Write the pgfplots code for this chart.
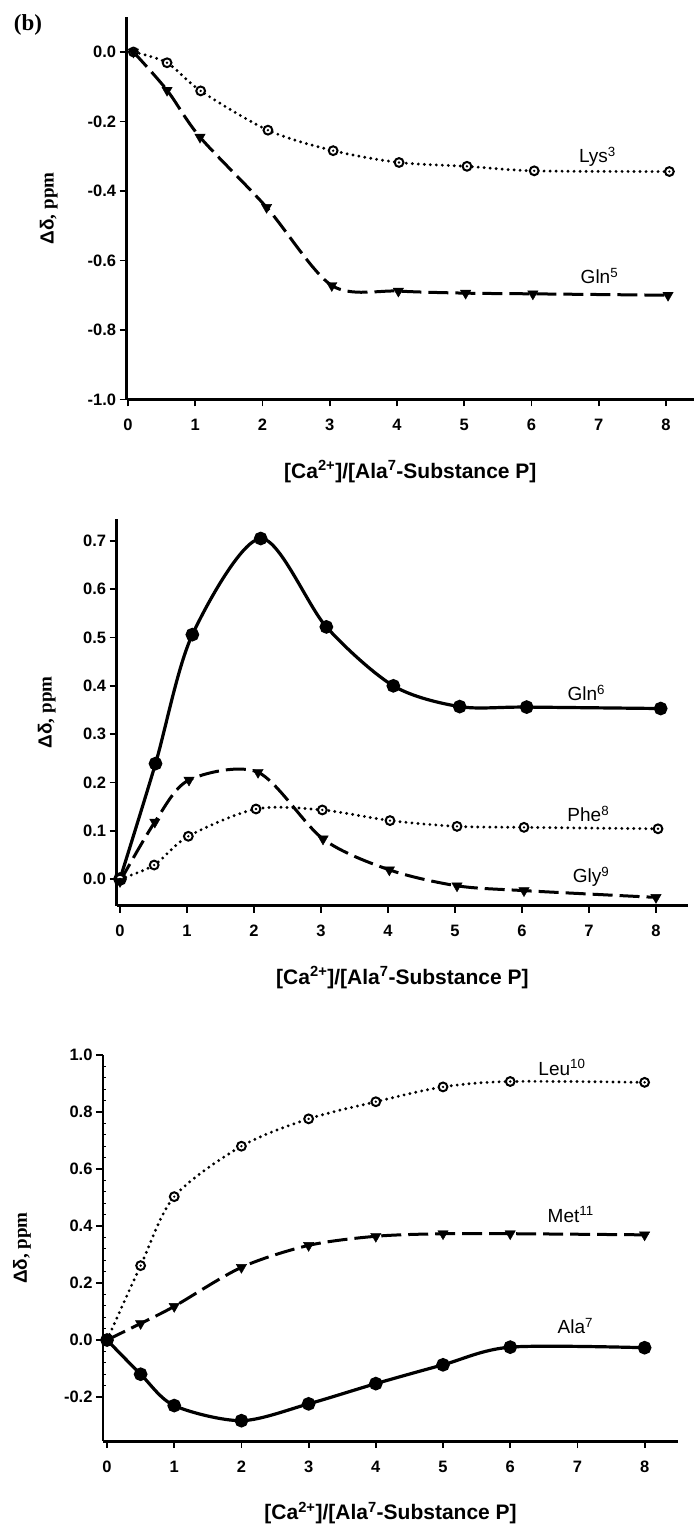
\documentclass[border=0pt]{standalone}
\usepackage{fontspec}
\setmainfont{Liberation Sans}
\newfontfamily\serifb{Liberation Serif}
\usepackage{pgfplots}
\pgfplotsset{compat=1.18}

\pgfdeclareplotmark{odot}{%
  \pgfpathcircle{\pgfpointorigin}{\pgfplotmarksize}%
  \pgfsetfillcolor{white}%
  \pgfusepathqfillstroke
  \pgfpathcircle{\pgfpointorigin}{0.3\pgfplotmarksize}%
  \pgfsetfillcolor{black}%
  \pgfusepathqfill
}

\tikzset{lab/.style={font=\fontsize{19}{19}\selectfont, anchor=center}}

\pgfplotsset{
  panel/.style={
    scale only axis, axis lines=left, axis line style={-, line width=2.6pt},
    tick align=outside, major tick length=7pt,
    tick style={line width=1.8pt, black},
    xtick={0,...,8},
    ticklabel style={font=\fontsize{16.5}{16.5}\selectfont\bfseries},
    xticklabel style={yshift=-9pt},
    /pgf/number format/assume math mode=true,
    yticklabel style={/pgf/number format/fixed, /pgf/number format/fixed zerofill, /pgf/number format/precision=1},
    clip=false,
    xlabel={[Ca\textsuperscript{2+}]/[Ala\textsuperscript{7}-Substance P]},
    every axis x label/.style={at={(axis description cs:0.5,0)}, yshift=-72pt, anchor=center, font=\fontsize{21}{21}\selectfont\bfseries},
    ylabel={\bfseries Δδ{\serifb\bfseries, ppm}},
  },
  ylab/.style={every axis y label/.style={at={(axis description cs:0,0.5)}, xshift=-#1, rotate=90, anchor=center, font=\fontsize{19}{19}\selectfont}},
  dotline/.style={line width=3.2pt, line cap=round, dash pattern=on 0pt off 6pt, mark=odot, mark size=4.4pt, mark options={solid, line width=2pt}},
  dashline/.style={line width=3pt, dash pattern=on 20pt off 7pt, mark=triangle*, mark size=6pt, mark options={solid, rotate=180, line width=0.4pt}},
  solidline/.style={line width=3.2pt, mark=*, mark size=5.2pt, mark options={solid}},
}

\begin{document}
\begin{tikzpicture}
\useasboundingbox (0,0) rectangle (694pt,1526pt);
\node[font=\serifb\bfseries\fontsize{23}{23}\selectfont] at (28pt,1501pt) {(b)};

% Panel 1
\begin{axis}[panel, ylab=78pt,
  at={(126.7pt,1126.5pt)}, anchor=south west, width=567.3pt, height=382.25pt,
  xmin=-0.02, xmax=8.416, ymin=-1.0, ymax=0.1,
  ytick={-1.0,-0.8,-0.6,-0.4,-0.2,0.0}]
\addplot[dotline, smooth] coordinates {(0.08,0) (0.58,-0.031) (1.08,-0.112) (2.08,-0.225) (3.05,-0.284) (4.03,-0.318) (5.04,-0.329) (6.04,-0.342) (8.05,-0.344)};
\addplot[dashline, smooth] coordinates {(0.08,0) (0.58,-0.11) (1.07,-0.245) (2.06,-0.447) (3.03,-0.672) (4.02,-0.688) (5.02,-0.694) (6.02,-0.696) (8.03,-0.70)};
\node[lab] at (axis cs:6.98,-0.302) {Lys\textsuperscript{3}};
\node[lab] at (axis cs:7.01,-0.645) {Gln\textsuperscript{5}};
\end{axis}

% Panel 2
\begin{axis}[panel, ylab=70pt,
  at={(116.65pt,620.4pt)}, anchor=south west, width=571.5pt, height=386.4pt,
  xmin=-0.05, xmax=8.48, ymin=-0.055, ymax=0.745,
  ytick={0.0,0.1,0.2,0.3,0.4,0.5,0.6,0.7}]
\addplot[solidline, smooth] coordinates {(0,0) (0.53,0.239) (1.08,0.506) (2.1,0.705) (3.08,0.522) (4.08,0.40) (5.07,0.357) (6.07,0.356) (8.07,0.353)};
\addplot[dotline, smooth] coordinates {(0,0) (0.51,0.029) (1.02,0.0885) (2.03,0.145) (3.02,0.143) (4.03,0.121) (5.03,0.109) (6.03,0.107) (8.03,0.104)};
\addplot[dashline, smooth] coordinates {(0,-0.005) (0.52,0.118) (1.03,0.205) (2.06,0.221) (3.03,0.083) (4.02,0.019) (5.03,-0.014) (6.03,-0.024) (8.0,-0.038)};
\node[lab] at (axis cs:6.96,0.386) {Gln\textsuperscript{6}};
\node[lab] at (axis cs:6.99,0.135) {Phe\textsuperscript{8}};
\node[lab] at (axis cs:7.03,0.005) {Gly\textsuperscript{9}};
\end{axis}

% Panel 3
\begin{axis}[panel, ylab=81pt,
  at={(103pt,84.8pt)}, anchor=south west, width=575.2pt, height=386.2pt,
  xmin=-0.06, xmax=8.5, ymin=-0.355, ymax=1.0,
  ytick={-0.2,0.0,0.2,0.4,0.6,0.8,1.0},
  minor y tick num=4, minor tick length=3pt,
  every minor tick/.append style={xshift=3pt, line width=1.2pt}]
\addplot[dotline, smooth] coordinates {(0,0) (0.5,0.261) (1,0.503) (2,0.68) (3,0.776) (4,0.836) (5,0.888) (6,0.907) (8,0.904)};
\addplot[dashline, smooth] coordinates {(0,0) (0.5,0.058) (1,0.118) (2,0.255) (3,0.332) (4,0.364) (5,0.373) (6,0.373) (8,0.369)};
\addplot[solidline, smooth] coordinates {(0,0) (0.5,-0.12) (1,-0.23) (2,-0.283) (3,-0.224) (4,-0.153) (5,-0.087) (6,-0.025) (8,-0.027)};
\node[lab] at (axis cs:6.77,0.956) {Leu\textsuperscript{10}};
\node[lab] at (axis cs:6.9,0.44) {Met\textsuperscript{11}};
\node[lab] at (axis cs:6.97,0.05) {Ala\textsuperscript{7}};
\end{axis}
\end{tikzpicture}
\end{document}
